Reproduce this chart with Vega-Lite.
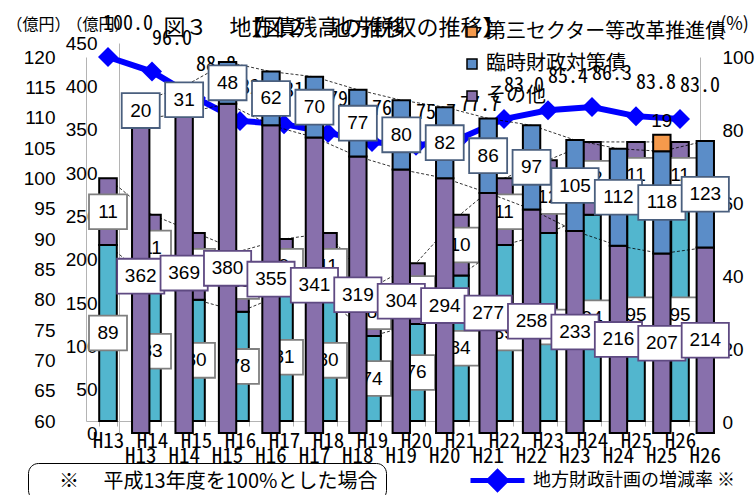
{
  "$schema": "https://vega.github.io/schema/vega-lite/v6.json",
  "width": 608,
  "height": 390,
  "autosize": {"type": "none"},
  "padding": {"left": 119, "top": 43, "right": 28, "bottom": 62},
  "background": "white",
  "config": {
    "view": {"stroke": null},
    "font": "Noto Sans CJK JP",
    "axis": {"grid": false, "domainColor": "#B4B4B4", "tickColor": "#B4B4B4", "labelColor": "black", "titleColor": "black", "titleFontWeight": "normal", "labelFont": "Liberation Sans", "labelFontSize": 19, "titleFont": "Noto Sans CJK JP", "titleFontSize": 16},
    "legend": {"labelFont": "Noto Sans CJK JP", "labelColor": "black", "labelLimit": 600}
  },
  "datasets": {
    "A": [
      {"year": "H13", "cat": "地方税", "k": 1, "v": 89}, {"year": "H13", "cat": "その他", "k": 2, "v": 11},
      {"year": "H14", "cat": "地方税", "k": 1, "v": 83}, {"year": "H14", "cat": "その他", "k": 2, "v": 11},
      {"year": "H15", "cat": "地方税", "k": 1, "v": 80}, {"year": "H15", "cat": "その他", "k": 2, "v": 11},
      {"year": "H16", "cat": "地方税", "k": 1, "v": 78}, {"year": "H16", "cat": "その他", "k": 2, "v": 10},
      {"year": "H17", "cat": "地方税", "k": 1, "v": 81}, {"year": "H17", "cat": "その他", "k": 2, "v": 9},
      {"year": "H18", "cat": "地方税", "k": 1, "v": 80}, {"year": "H18", "cat": "その他", "k": 2, "v": 11},
      {"year": "H19", "cat": "地方税", "k": 1, "v": 74}, {"year": "H19", "cat": "その他", "k": 2, "v": 8},
      {"year": "H20", "cat": "地方税", "k": 1, "v": 76}, {"year": "H20", "cat": "その他", "k": 2, "v": 10},
      {"year": "H21", "cat": "地方税", "k": 1, "v": 84}, {"year": "H21", "cat": "その他", "k": 2, "v": 10},
      {"year": "H22", "cat": "地方税", "k": 1, "v": 89}, {"year": "H22", "cat": "その他", "k": 2, "v": 11},
      {"year": "H23", "cat": "地方税", "k": 1, "v": 91}, {"year": "H23", "cat": "その他", "k": 2, "v": 12},
      {"year": "H24", "cat": "地方税", "k": 1, "v": 94}, {"year": "H24", "cat": "その他", "k": 2, "v": 12},
      {"year": "H25", "cat": "地方税", "k": 1, "v": 95}, {"year": "H25", "cat": "その他", "k": 2, "v": 11},
      {"year": "H26", "cat": "地方税", "k": 1, "v": 95}, {"year": "H26", "cat": "その他", "k": 2, "v": 11}
    ],
    "B": [
      {"year": "H13", "cat": "その他", "k": 1, "v": 362}, {"year": "H13", "cat": "臨時財政対策債", "k": 2, "v": 20},
      {"year": "H14", "cat": "その他", "k": 1, "v": 369}, {"year": "H14", "cat": "臨時財政対策債", "k": 2, "v": 31},
      {"year": "H15", "cat": "その他", "k": 1, "v": 380}, {"year": "H15", "cat": "臨時財政対策債", "k": 2, "v": 48},
      {"year": "H16", "cat": "その他", "k": 1, "v": 355}, {"year": "H16", "cat": "臨時財政対策債", "k": 2, "v": 62},
      {"year": "H17", "cat": "その他", "k": 1, "v": 341}, {"year": "H17", "cat": "臨時財政対策債", "k": 2, "v": 70},
      {"year": "H18", "cat": "その他", "k": 1, "v": 319}, {"year": "H18", "cat": "臨時財政対策債", "k": 2, "v": 77},
      {"year": "H19", "cat": "その他", "k": 1, "v": 304}, {"year": "H19", "cat": "臨時財政対策債", "k": 2, "v": 80},
      {"year": "H20", "cat": "その他", "k": 1, "v": 294}, {"year": "H20", "cat": "臨時財政対策債", "k": 2, "v": 82},
      {"year": "H21", "cat": "その他", "k": 1, "v": 277}, {"year": "H21", "cat": "臨時財政対策債", "k": 2, "v": 86},
      {"year": "H22", "cat": "その他", "k": 1, "v": 258}, {"year": "H22", "cat": "臨時財政対策債", "k": 2, "v": 97},
      {"year": "H23", "cat": "その他", "k": 1, "v": 233}, {"year": "H23", "cat": "臨時財政対策債", "k": 2, "v": 105},
      {"year": "H24", "cat": "その他", "k": 1, "v": 216}, {"year": "H24", "cat": "臨時財政対策債", "k": 2, "v": 112},
      {"year": "H25", "cat": "その他", "k": 1, "v": 207}, {"year": "H25", "cat": "臨時財政対策債", "k": 2, "v": 118},
      {"year": "H25", "cat": "第三セクター等改革推進債", "k": 3, "v": 19},
      {"year": "H26", "cat": "その他", "k": 1, "v": 214}, {"year": "H26", "cat": "臨時財政対策債", "k": 2, "v": 123}
    ],
    "P": [
      {"year": "H13", "p": 100.0}, {"year": "H14", "p": 96.0}, {"year": "H15", "p": 88.8}, {"year": "H16", "p": 82.5},
      {"year": "H17", "p": 81.6}, {"year": "H18", "p": 79.2}, {"year": "H19", "p": 76.7}, {"year": "H20", "p": 75.7},
      {"year": "H21", "p": 77.7}, {"year": "H22", "p": 83.0}, {"year": "H23", "p": 85.4}, {"year": "H24", "p": 86.3},
      {"year": "H25", "p": 83.8}, {"year": "H26", "p": 83.0}
    ],
    "N": [{"note": "※　 平成13年度を100%とした場合　"}]
  },
  "layer": [
    {
      "data": {"name": "A"},
      "transform": [{"stack": "v", "groupby": ["year"], "sort": [{"field": "k", "order": "ascending"}], "as": ["s0", "s1"]}],
      "mark": {"type": "line", "color": "black", "strokeWidth": 0.8, "strokeDash": [3, 2]},
      "encoding": {
        "x": {"field": "year", "type": "nominal", "scale": {"type": "band", "domain": ["H13","H14","H15","H16","H17","H18","H19","H20","H21","H22","H23","H24","H25","H26"], "range": [-33, 583], "paddingInner": 0.6, "paddingOuter": 0.3}, "axis": null},
        "y": {"field": "s1", "type": "quantitative", "scale": {"domain": [60, 120], "range": [378, 14], "nice": false, "zero": false, "clamp": true}, "axis": null},
        "detail": {"field": "cat"}
      }
    },
    {
      "data": {"name": "A"},
      "mark": {"type": "bar", "stroke": "black", "strokeWidth": 2},
      "encoding": {
        "x": {"field": "year", "type": "nominal", "scale": {"type": "band", "domain": ["H13","H14","H15","H16","H17","H18","H19","H20","H21","H22","H23","H24","H25","H26"], "range": [-33, 583], "paddingInner": 0.6, "paddingOuter": 0.3},
          "axis": {"orient": "bottom", "offset": -12, "title": null, "labelAngle": 0, "labelFont": "Noto Sans Mono CJK JP", "labelFontSize": 21, "labelPadding": 4, "tickSize": 5, "tickBand": "extent", "domain": true}},
        "y": {"field": "v", "type": "quantitative", "stack": "zero", "scale": {"domain": [60, 120], "range": [378, 14], "nice": false, "zero": false, "clamp": true},
          "axis": {"orient": "left", "offset": 33, "values": [60, 65, 70, 75, 80, 85, 90, 95, 100, 105, 110, 115, 120], "ticks": false, "labelPadding": 31, "title": "（億円）", "titleAngle": 0, "titleX": -48, "titleY": -19, "titleAlign": "center", "titleBaseline": "middle"}},
        "color": {"field": "cat", "type": "nominal", "scale": {"domain": ["地方税", "その他"], "range": ["#52B6CE", "#8870AC"]}, "legend": null},
        "order": {"field": "k", "type": "quantitative"}
      }
    },
    {
      "data": {"name": "A"},
      "transform": [{"filter": "datum.cat === '地方税'"}],
      "mark": {"type": "point", "filled": true, "fill": "white", "stroke": "#7F7F7F", "strokeWidth": 1.8, "size": 1600, "opacity": 1, "shape": "M-0.95,-0.87H0.95V0.87H-0.95Z"},
      "encoding": {
        "x": {"field": "year", "type": "nominal", "scale": {"type": "band", "domain": ["H13","H14","H15","H16","H17","H18","H19","H20","H21","H22","H23","H24","H25","H26"], "range": [-33, 583], "paddingInner": 0.6, "paddingOuter": 0.3}, "axis": null},
        "y": {"field": "v", "type": "quantitative", "scale": {"domain": [60, 120], "range": [378, 196], "nice": false, "zero": false}, "axis": null}
      }
    },
    {
      "data": {"name": "A"},
      "transform": [{"filter": "datum.cat === '地方税'"}],
      "mark": {"type": "text", "font": "Liberation Sans", "fontSize": 19, "color": "black"},
      "encoding": {
        "x": {"field": "year", "type": "nominal", "scale": {"type": "band", "domain": ["H13","H14","H15","H16","H17","H18","H19","H20","H21","H22","H23","H24","H25","H26"], "range": [-33, 583], "paddingInner": 0.6, "paddingOuter": 0.3},
          "axis": {"orient": "top", "labels": false, "ticks": false, "domain": false, "title": "【図２　地方税収の推移】", "titleX": 121, "titleY": -16, "titleAlign": "left", "titleBaseline": "middle", "titleFontSize": 22, "titleFont": "Noto Sans CJK JP"}},
        "y": {"field": "v", "type": "quantitative", "scale": {"domain": [60, 120], "range": [378, 196], "nice": false, "zero": false}, "axis": null},
        "text": {"field": "v", "type": "quantitative"}
      }
    },
    {
      "data": {"name": "A"},
      "mark": {"type": "point", "filled": true, "fill": "white", "stroke": "#7F7F7F", "strokeWidth": 1.8, "size": 1600, "shape": "M-0.95,-0.87H0.95V0.87H-0.95Z"},
      "encoding": {
        "x": {"field": "year", "type": "nominal", "scale": {"type": "band", "domain": ["H13","H14","H15","H16","H17","H18","H19","H20","H21","H22","H23","H24","H25","H26"], "range": [-33, 583], "paddingInner": 0.6, "paddingOuter": 0.3}, "axis": null},
        "y": {"field": "v", "type": "quantitative", "stack": "zero", "bandPosition": 0.5, "scale": {"domain": [60, 120], "range": [378, 14], "nice": false, "zero": false, "clamp": true}, "axis": null},
        "detail": {"field": "cat"},
        "order": {"field": "k", "type": "quantitative"},
        "opacity": {"condition": {"test": "datum.cat === '地方税'", "value": 0}, "value": 1}
      }
    },
    {
      "data": {"name": "A"},
      "mark": {"type": "text", "font": "Liberation Sans", "fontSize": 19, "color": "black"},
      "encoding": {
        "x": {"field": "year", "type": "nominal", "scale": {"type": "band", "domain": ["H13","H14","H15","H16","H17","H18","H19","H20","H21","H22","H23","H24","H25","H26"], "range": [-33, 583], "paddingInner": 0.6, "paddingOuter": 0.3}, "axis": null},
        "y": {"field": "v", "type": "quantitative", "stack": "zero", "bandPosition": 0.5, "scale": {"domain": [60, 120], "range": [378, 14], "nice": false, "zero": false, "clamp": true}, "axis": null},
        "detail": {"field": "cat"},
        "order": {"field": "k", "type": "quantitative"},
        "text": {"condition": {"test": "datum.cat === 'その他'", "field": "v", "type": "quantitative"}, "value": ""}
      }
    },
    {
      "data": {"name": "P"},
      "mark": {"type": "line", "strokeWidth": 6, "point": {"shape": "diamond", "size": 400, "filled": true, "opacity": 1}},
      "encoding": {
        "x": {"field": "year", "type": "nominal", "scale": {"type": "band", "domain": ["H13","H14","H15","H16","H17","H18","H19","H20","H21","H22","H23","H24","H25","H26"], "range": [-33, 583], "paddingInner": 0.6, "paddingOuter": 0.3}, "axis": null},
        "y": {"field": "p", "type": "quantitative", "scale": {"domain": [0, 100], "range": [379, 14], "nice": false},
          "axis": {"orient": "right", "offset": -27, "values": [0, 20, 40, 60, 80, 100], "ticks": false, "labelPadding": 22, "title": "(%)", "titleFontSize": 18, "titleAngle": 0, "titleX": 34, "titleY": -19, "titleAlign": "center", "titleBaseline": "middle"}},
        "color": {"datum": "地方財政計画の増減率 ※", "type": "nominal", "scale": {"range": ["#0000FF"]},
          "legend": {"orient": "none", "legendX": 349, "legendY": 408, "title": null, "symbolType": "M-1,0H1M0,-0.32L0.32,0L0,0.32L-0.32,0Z", "symbolSize": 2916, "symbolStrokeWidth": 5, "symbolStrokeColor": "#0000FF", "symbolFillColor": "#0000FF", "labelFontSize": 18, "labelOffset": 6,
            "encode": {"symbols": {"update": {"fill": {"value": "#0000FF"}, "stroke": {"value": "#0000FF"}, "strokeWidth": {"value": 5}, "opacity": {"value": 1}}}}}}
      }
    },
    {
      "data": {"name": "P"},
      "mark": {"type": "text", "dx": 20, "dy": -33, "font": "Noto Sans Mono CJK JP", "fontSize": 20, "color": "black"},
      "encoding": {
        "x": {"field": "year", "type": "nominal", "scale": {"type": "band", "domain": ["H13","H14","H15","H16","H17","H18","H19","H20","H21","H22","H23","H24","H25","H26"], "range": [-33, 583], "paddingInner": 0.6, "paddingOuter": 0.3}, "axis": null},
        "y": {"field": "p", "type": "quantitative", "scale": {"domain": [0, 100], "range": [379, 14], "nice": false}, "axis": null},
        "text": {"field": "p", "type": "quantitative", "format": ".1f"}
      }
    },
    {
      "data": {"name": "B"},
      "transform": [{"stack": "v", "groupby": ["year"], "sort": [{"field": "k", "order": "ascending"}], "as": ["s0", "s1"]}],
      "mark": {"type": "line", "color": "black", "strokeWidth": 0.8, "strokeDash": [3, 2]},
      "encoding": {
        "x": {"field": "year", "type": "nominal", "scale": {"type": "band", "domain": ["H13","H14","H15","H16","H17","H18","H19","H20","H21","H22","H23","H24","H25","H26"], "paddingInner": 0.6, "paddingOuter": 0.3}, "axis": null},
        "y": {"field": "s1", "type": "quantitative", "scale": {"domain": [0, 450], "nice": false}, "axis": null},
        "detail": {"field": "cat"}
      }
    },
    {
      "data": {"name": "B"},
      "mark": {"type": "bar", "stroke": "black", "strokeWidth": 2},
      "encoding": {
        "x": {"field": "year", "type": "nominal", "scale": {"type": "band", "domain": ["H13","H14","H15","H16","H17","H18","H19","H20","H21","H22","H23","H24","H25","H26"], "paddingInner": 0.6, "paddingOuter": 0.3},
          "axis": {"orient": "bottom", "offset": 0, "title": null, "labelAngle": 0, "labelFont": "Noto Sans Mono CJK JP", "labelFontSize": 21, "labelPadding": 12, "ticks": false, "domain": false}},
        "y": {"field": "v", "type": "quantitative", "stack": "zero", "scale": {"domain": [0, 450], "nice": false},
          "axis": {"orient": "left", "offset": 0, "values": [0, 50, 100, 150, 200, 250, 300, 350, 400, 450], "ticks": false, "labelPadding": 22, "title": "（億円）", "titleAngle": 0, "titleX": -21, "titleY": -19, "titleAlign": "center", "titleBaseline": "middle"}},
        "color": {"field": "cat", "type": "nominal", "scale": {"domain": ["その他", "臨時財政対策債", "第三セクター等改革推進債"], "range": ["#8870AC", "#5B8DC8", "#F59A4C"]},
          "legend": {"orient": "none", "legendX": 343, "legendY": -21, "title": null, "values": ["第三セクター等改革推進債", "臨時財政対策債", "その他"], "symbolType": "square", "symbolSize": 100, "symbolStrokeColor": "black", "symbolStrokeWidth": 1.5, "labelFontSize": 20, "labelOffset": 4, "rowPadding": 12}},
        "order": {"field": "k", "type": "quantitative"}
      }
    },
    {
      "data": {"name": "B"},
      "mark": {"type": "point", "filled": true, "fill": "white", "strokeWidth": 1.8, "size": 1600},
      "encoding": {
        "x": {"field": "year", "type": "nominal", "scale": {"type": "band", "domain": ["H13","H14","H15","H16","H17","H18","H19","H20","H21","H22","H23","H24","H25","H26"], "paddingInner": 0.6, "paddingOuter": 0.3}, "axis": null},
        "y": {"field": "v", "type": "quantitative", "stack": "zero", "bandPosition": 0.5, "scale": {"domain": [0, 450], "nice": false}, "axis": null},
        "detail": {"field": "cat"},
        "order": {"field": "k", "type": "quantitative"},
        "shape": {"condition": {"test": "datum.v >= 100", "value": "M-1.18,-0.87H1.18V0.87H-1.18Z"}, "value": "M-0.95,-0.87H0.95V0.87H-0.95Z"},
        "stroke": {"condition": {"test": "datum.cat === 'その他'", "value": "#5F4A82"}, "value": "#4A5F7E"},
        "opacity": {"condition": {"test": "datum.cat === '第三セクター等改革推進債'", "value": 0}, "value": 1}
      }
    },
    {
      "data": {"name": "B"},
      "mark": {"type": "text", "font": "Liberation Sans", "fontSize": 19, "color": "black"},
      "encoding": {
        "x": {"field": "year", "type": "nominal", "scale": {"type": "band", "domain": ["H13","H14","H15","H16","H17","H18","H19","H20","H21","H22","H23","H24","H25","H26"], "paddingInner": 0.6, "paddingOuter": 0.3},
          "axis": {"orient": "top", "labels": false, "ticks": false, "domain": false, "title": "図３　地方債残高の推移", "titleX": 44, "titleY": -16, "titleAlign": "left", "titleBaseline": "middle", "titleFontSize": 22, "titleFont": "Noto Sans CJK JP"}},
        "y": {"field": "v", "type": "quantitative", "stack": "zero", "bandPosition": 0.5, "scale": {"domain": [0, 450], "nice": false}, "axis": null},
        "detail": {"field": "cat"},
        "order": {"field": "k", "type": "quantitative"},
        "text": {"condition": {"test": "datum.cat !== '第三セクター等改革推進債'", "field": "v", "type": "quantitative"}, "value": ""}
      }
    },
    {
      "data": {"name": "B"},
      "mark": {"type": "text", "font": "Liberation Sans", "fontSize": 19, "color": "black", "dy": -14},
      "encoding": {
        "x": {"field": "year", "type": "nominal", "scale": {"type": "band", "domain": ["H13","H14","H15","H16","H17","H18","H19","H20","H21","H22","H23","H24","H25","H26"], "paddingInner": 0.6, "paddingOuter": 0.3}, "axis": null},
        "y": {"field": "v", "type": "quantitative", "stack": "zero", "scale": {"domain": [0, 450], "nice": false}, "axis": null},
        "detail": {"field": "cat"},
        "order": {"field": "k", "type": "quantitative"},
        "text": {"condition": {"test": "datum.cat === '第三セクター等改革推進債'", "field": "v", "type": "quantitative"}, "value": ""}
      }
    },
    {
      "data": {"name": "N"},
      "mark": {"type": "point", "opacity": 0},
      "encoding": {
        "shape": {"field": "note", "type": "nominal",
          "legend": {"orient": "none", "legendX": -91, "legendY": 420, "title": null, "symbolSize": 400, "symbolOpacity": 0, "labelFontSize": 20, "labelOffset": 1, "padding": 8, "strokeColor": "black", "cornerRadius": 10,
            "encode": {"legend": {"update": {"strokeWidth": {"value": 1.5}}}}}}
      }
    }
  ],
  "resolve": {"scale": {"x": "independent", "y": "independent", "color": "independent", "shape": "independent", "opacity": "independent", "stroke": "independent"}}
}
